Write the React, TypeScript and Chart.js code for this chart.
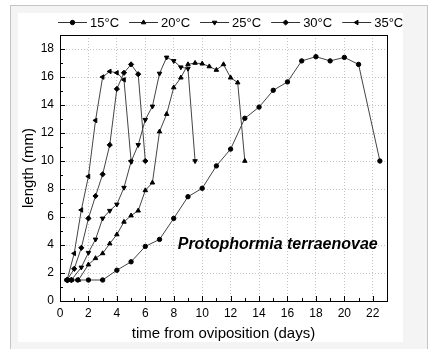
import React, { useEffect, useRef } from 'react';
import { Chart, registerables } from 'chart.js';
import { drawPoint } from 'chart.js/helpers';

Chart.register(...registerables);

// ---- data ----
const seriesLabels = ['15°C', '20°C', '25°C', '30°C', '35°C'];

const days15 = [0.5, 0.8, 1.25, 2, 3, 4, 5, 6, 7, 8, 9, 10, 11, 12, 13, 14, 15, 16, 17, 18, 19, 20, 21, 22.5];
const len15 = [1.5, 1.5, 1.5, 1.5, 1.5, 2.2, 2.8, 3.9, 4.4, 5.9, 7.45, 8.05, 9.65, 10.85, 13.05, 13.85, 15.05, 15.65, 17.15, 17.45, 17.15, 17.4, 16.9, 10];

const days20 = [0.5, 0.8, 1.3, 2, 2.5, 3, 3.5, 4, 4.5, 5, 5.5, 6, 6.5, 7, 7.5, 8, 8.5, 9, 9.5, 10, 10.5, 11, 11.5, 12, 12.5, 13];
const len20 = [1.5, 1.5, 1.5, 2.6, 3.05, 3.4, 4.1, 4.75, 5.65, 6.1, 6.45, 7.9, 8.45, 12.1, 13.35, 15.25, 15.95, 16.9, 17.0, 16.95, 16.75, 16.5, 16.9, 15.95, 15.6, 10];

const days25 = [0.5, 0.8, 1.5, 2, 2.5, 3, 3.5, 4, 4.5, 5, 5.5, 6, 6.5, 7, 7.5, 8, 8.5, 9, 9.5];
const len25 = [1.5, 1.5, 2.4, 3.45, 4.4, 5.9, 6.45, 6.9, 8.1, 9.95, 11.15, 12.95, 13.9, 16.25, 17.4, 17.15, 16.7, 16.6, 10];

const days30 = [0.5, 1, 1.5, 2, 2.5, 3, 3.5, 4, 4.5, 5, 5.5, 6];
const len30 = [1.5, 2.3, 3.8, 5.9, 7.5, 9.05, 11.15, 15.15, 16.3, 16.9, 16.2, 10];

const days35 = [0.5, 1, 1.5, 2, 2.5, 3, 3.5, 4, 4.5, 5];
const len35 = [1.5, 3.4, 6.5, 8.9, 12.9, 16.0, 16.4, 16.3, 15.8, 10];

const seriesDays = [days15, days20, days25, days30, days35];
const seriesLengths = [len15, len20, len25, len30, len35];

const xTitle = 'time from oviposition (days)';
const yTitle = 'length (mm)';
const speciesName = 'Protophormia terraenovae';
const speciesPos = { x: 22.35, y: 4 };

// ---- styles ----
const pointStyles = ['circle', 'triangle', 'triangle', 'rectRot', 'triangle'];
const pointRotations = [0, 0, 180, 0, 270];
const pointRadii = [2.2, 2.6, 2.6, 2.6, 2.6];
const FONT = '"Liberation Sans", Arial, sans-serif';

const framePlugin = {
  id: 'framePlugin',
  afterDraw(chart: any) {
    const { ctx, chartArea } = chart;
    const xs = chart.scales.x;
    const ys = chart.scales.y;
    ctx.save();
    // border box
    ctx.strokeStyle = '#000';
    ctx.lineWidth = 1;
    ctx.setLineDash([]);
    ctx.strokeRect(Math.round(chartArea.left) + 0.5, Math.round(chartArea.top) + 0.5,
      Math.round(chartArea.right - chartArea.left), Math.round(chartArea.bottom - chartArea.top));
    // inward ticks
    ctx.beginPath();
    for (let v = xs.min; v <= xs.max; v += 1) {
      const px = Math.round(xs.getPixelForValue(v)) + 0.5;
      const len = v % 2 === 0 ? 5 : 3;
      ctx.moveTo(px, chartArea.bottom);
      ctx.lineTo(px, chartArea.bottom - len);
    }
    for (let v = ys.min; v <= ys.max; v += 1) {
      const py = Math.round(ys.getPixelForValue(v)) + 0.5;
      const len = v % 2 === 0 ? 5 : 3;
      ctx.moveTo(chartArea.left, py);
      ctx.lineTo(chartArea.left + len, py);
    }
    ctx.stroke();

    // species label
    ctx.fillStyle = '#000';
    ctx.font = `italic bold 16px ${FONT}`;
    ctx.textAlign = 'right';
    ctx.textBaseline = 'middle';
    ctx.fillText(speciesName, xs.getPixelForValue(speciesPos.x), ys.getPixelForValue(speciesPos.y));

    // legend
    ctx.font = `13px ${FONT}`;
    ctx.textAlign = 'left';
    let lx = chartArea.left - 2;
    const ly = 9;
    chart.data.datasets.forEach((ds: any, i: number) => {
      ctx.strokeStyle = '#333';
      ctx.lineWidth = 1;
      ctx.beginPath();
      ctx.moveTo(lx, ly + 0.5);
      ctx.lineTo(lx + 29, ly + 0.5);
      ctx.stroke();
      ctx.fillStyle = '#000';
      ctx.strokeStyle = '#000';
      drawPoint(ctx, { pointStyle: pointStyles[i], rotation: pointRotations[i], radius: pointRadii[i], borderWidth: 1 }, lx + 14.5, ly + 0.5);
      ctx.fillStyle = '#000';
      ctx.fillText(ds.label, lx + 32, ly + 1);
      lx += 32 + ctx.measureText(ds.label).width + 10;
    });
    ctx.restore();
  },
};

export default function App() {
  const ref = useRef<HTMLCanvasElement>(null);
  useEffect(() => {
    if (!ref.current) return;
    const datasets = seriesLabels.map((label, i) => ({
      label,
      data: seriesDays[i].map((d, j) => ({ x: d, y: seriesLengths[i][j] })),
      borderColor: '#444',
      borderWidth: 1,
      pointStyle: pointStyles[i],
      rotation: pointRotations[i],
      pointRadius: pointRadii[i],
      pointBackgroundColor: '#000',
      pointBorderColor: '#000',
      pointBorderWidth: 1,
      tension: 0,
      fill: false,
    }));
    const chart = new Chart(ref.current, {
      type: 'line',
      data: { datasets },
      options: {
        responsive: false,
        animation: false,
        layout: { padding: { top: 22, right: 16, left: 0, bottom: 0 } },
        plugins: { legend: { display: false }, tooltip: { enabled: false } },
        scales: {
          x: {
            type: 'linear',
            min: 0,
            max: 23,
            afterFit: (s: any) => { s.height = 41; },
            ticks: { stepSize: 2, includeBounds: false, padding: 5, color: '#000', font: { family: FONT, size: 12 } },
            grid: { color: '#c4c4c4', drawTicks: false, lineWidth: 1 },
            border: { display: false, dash: [1, 2] },
            title: { display: true, text: xTitle, color: '#000', padding: { top: 0, bottom: -1 }, font: { family: FONT, size: 15 } },
          },
          y: {
            type: 'linear',
            min: 0,
            max: 19,
            afterFit: (s: any) => { s.width = 42; },
            ticks: { stepSize: 2, includeBounds: false, padding: 6, color: '#000', font: { family: FONT, size: 12 } },
            grid: { color: '#c4c4c4', drawTicks: false, lineWidth: 1 },
            border: { display: false, dash: [1, 2] },
            title: { display: true, text: yTitle, color: '#000', padding: { top: 2, bottom: 0 }, font: { family: FONT, size: 15 } },
          },
        },
      },
      plugins: [framePlugin],
    });
    return () => chart.destroy();
  }, []);

  return (
    <div style={{ position: 'absolute', left: 0, top: 0, width: 430, height: 349, background: '#fff', overflow: 'hidden' }}>
      <div style={{ position: 'absolute', left: 10, top: 5, width: 418, height: 360, border: '1px solid #c4c4c4', background: '#f4f4f4', boxSizing: 'border-box' }} />
      <div style={{ position: 'absolute', left: 18, top: 13, width: 385, height: 329, background: '#fff' }} />
      <canvas ref={ref} width={385} height={329} style={{ position: 'absolute', left: 18, top: 13, width: 385, height: 329 }} />
    </div>
  );
}
